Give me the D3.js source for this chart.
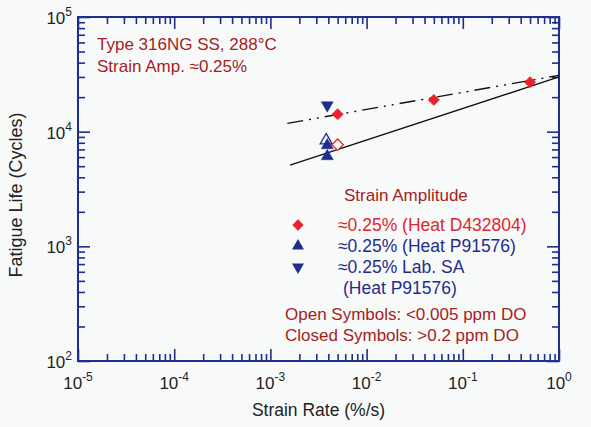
<!DOCTYPE html>
<meta charset="utf-8">
<style>
body { margin: 0; background: #f8fafa; font-family: "Liberation Sans", Arial, sans-serif; }
.note { fill: #a51d1d; font-size: 17px; }
</style>
<body>
<script src="https://cdn.jsdelivr.net/npm/d3@7/dist/d3.min.js"></script>
<script>

// data
var rateRedClosed = [0.0050, 0.050, 0.50];
var lifeRedClosed = [14200, 18900, 27000];
var rateRedOpen = [0.0050];
var lifeRedOpen = [7700];
var rateBlueClosed = [0.0039, 0.0039];
var lifeBlueClosed = [7600, 6100];
var rateBlueOpen = [0.0038];
var lifeBlueOpen = [8400];
var rateLabSA = [0.0039];
var lifeLabSA = [17000];

// fit lines (end points)
var fitClosedRate = [0.0015, 1];
var fitClosedLife = [11800, 31000];
var fitOpenRate = [0.0016, 1];
var fitOpenLife = [5100, 30000];

var xDecades = [-5, -4, -3, -2, -1, 0];
var yDecades = [2, 3, 4, 5];

var W = 591, H = 427;
var margin = {top: 17, right: 32, bottom: 66, left: 78},
    width = W - margin.left - margin.right,
    height = H - margin.top - margin.bottom;

var blue = "#1f2d8c", red = "#e8232b", darkRed = "#a51d1d";

var x = d3.scaleLog().domain([1e-5, 1]).range([0, width]);
var y = d3.scaleLog().domain([1e2, 1e5]).range([height, 0]);

var svg = d3.select("body").append("svg")
    .attr("width", W)
    .attr("height", H);

var g = svg.append("g")
    .attr("transform", "translate(" + margin.left + "," + margin.top + ")");

function minors(decs) {
  var out = [];
  decs.slice(0, -1).forEach(function(d) {
    for (var k = 2; k <= 9; k++) out.push(k * Math.pow(10, d));
  });
  return out;
}
var xMajor = xDecades.map(function(d) { return Math.pow(10, d); });
var yMajor = yDecades.map(function(d) { return Math.pow(10, d); });
var xMinor = minors(xDecades), yMinor = minors(yDecades);

function tickAxis(axis, vals, size) {
  return axis.tickValues(vals).tickSizeInner(size).tickSizeOuter(0).tickFormat("");
}

// inward ticks on all four sides
var axes = [
  [d3.axisBottom(x), "translate(0," + height + ")"],
  [d3.axisTop(x), "translate(0,0)"],
  [d3.axisLeft(y), "translate(0,0)"],
  [d3.axisRight(y), "translate(" + width + ",0)"]
];
axes.forEach(function(a, i) {
  var maj = i < 2 ? xMajor : yMajor;
  var min = i < 2 ? xMinor : yMinor;
  [[maj, -12], [min, -7]].forEach(function(t) {
    g.append("g")
      .attr("transform", a[1])
      .call(tickAxis(a[0], t[0], t[1]))
      .call(function(s) {
        s.select(".domain").remove();
        s.selectAll("line").attr("stroke", blue).attr("stroke-width", 1.6);
        s.selectAll("text").remove();
      });
  });
});

g.append("rect")
  .attr("width", width)
  .attr("height", height)
  .attr("fill", "none")
  .attr("stroke", blue)
  .attr("stroke-width", 2);

// tick labels with superscripts
function powLabel(sel, d) {
  sel.append("tspan").text("10");
  sel.append("tspan").attr("dy", -8).attr("font-size", 12).text(d);
}
g.selectAll(".xlab").data(xDecades).enter().append("text")
  .attr("class", "xlab")
  .attr("x", function(d) { return x(Math.pow(10, d)); })
  .attr("y", height + 28)
  .attr("text-anchor", "middle")
  .attr("font-size", 17)
  .attr("fill", "#222")
  .each(function(d) { powLabel(d3.select(this), d); });

g.selectAll(".ylab").data(yDecades).enter().append("text")
  .attr("class", "ylab")
  .attr("x", -6)
  .attr("y", function(d) { return y(Math.pow(10, d)) + 7; })
  .attr("text-anchor", "end")
  .attr("font-size", 17)
  .attr("fill", "#222")
  .each(function(d) { powLabel(d3.select(this), d); });

g.append("text")
  .attr("x", width / 2)
  .attr("y", height + 55)
  .attr("text-anchor", "middle")
  .attr("font-size", 17.5)
  .attr("fill", "#222")
  .text("Strain Rate (%/s)");

g.append("text")
  .attr("transform", "rotate(-90)")
  .attr("x", -178)
  .attr("y", -56)
  .attr("text-anchor", "middle")
  .attr("font-size", 18)
  .attr("fill", "#222")
  .text("Fatigue Life (Cycles)");

// fit lines
var line = d3.line()
  .x(function(d) { return x(d[0]); })
  .y(function(d) { return y(d[1]); });

g.append("path")
  .datum(d3.zip(fitClosedRate, fitClosedLife))
  .attr("d", line)
  .attr("fill", "none")
  .attr("stroke", "#111")
  .attr("stroke-width", 1.4)
  .attr("stroke-dasharray", "16,6,2,6,2,6");

g.append("path")
  .datum(d3.zip(fitOpenRate, fitOpenLife))
  .attr("d", line)
  .attr("fill", "none")
  .attr("stroke", "#111")
  .attr("stroke-width", 1.4);

// markers
var diamond = d3.symbol().type(d3.symbolSquare).size(64);
var tri = d3.symbol().type(d3.symbolTriangle).size(62);

function plot(rates, lives, path, color, open, rot) {
  g.selectAll(null).data(d3.zip(rates, lives)).enter().append("path")
    .attr("d", path)
    .attr("transform", function(d) {
      return "translate(" + x(d[0]) + "," + y(d[1]) + ") rotate(" + rot + ")";
    })
    .attr("fill", open ? "#f8fafa" : color)
    .attr("stroke", color)
    .attr("stroke-width", open ? 1.3 : 0.5);
}
plot(rateBlueOpen, lifeBlueOpen, tri, blue, true, 0);
plot(rateRedOpen, lifeRedOpen, diamond, red, true, 45);
plot(rateBlueClosed, lifeBlueClosed, tri, blue, false, 0);
plot(rateLabSA, lifeLabSA, tri, blue, false, 180);
plot(rateRedClosed, lifeRedClosed, diamond, red, false, 45);

// notes
svg.append("text").attr("class", "note").attr("x", 97).attr("y", 50).text("Type 316NG SS, 288°C");
svg.append("text").attr("class", "note").attr("x", 97).attr("y", 72).text("Strain Amp. \u22480.25%");

// legend
svg.append("text").attr("class", "note").attr("x", 344).attr("y", 201).text("Strain Amplitude");

var legendRows = [
  {label: "\u22480.25% (Heat D432804)", color: red, path: diamond, rot: 45, y: 225},
  {label: "\u22480.25% (Heat P91576)", color: blue, path: tri, rot: 0, y: 246},
  {label: "\u22480.25% Lab. SA", color: blue, path: tri, rot: 180, y: 267}
];
legendRows.forEach(function(r) {
  svg.append("path")
    .attr("d", r.path)
    .attr("transform", "translate(298," + r.y + ") rotate(" + r.rot + ")")
    .attr("fill", r.color);
  svg.append("text")
    .attr("x", 338)
    .attr("y", r.y + 6)
    .attr("font-size", 17.5)
    .attr("fill", r.color === red ? "#e0262c" : blue)
    .text(r.label);
});
svg.append("text").attr("x", 343).attr("y", 294).attr("font-size", 17.5).attr("fill", blue).text("(Heat P91576)");

svg.append("text").attr("class", "note").attr("x", 285).attr("y", 320).text("Open Symbols: <0.005 ppm DO");
svg.append("text").attr("class", "note").attr("x", 285).attr("y", 341).text("Closed Symbols: >0.2 ppm DO");

</script>
</body>
